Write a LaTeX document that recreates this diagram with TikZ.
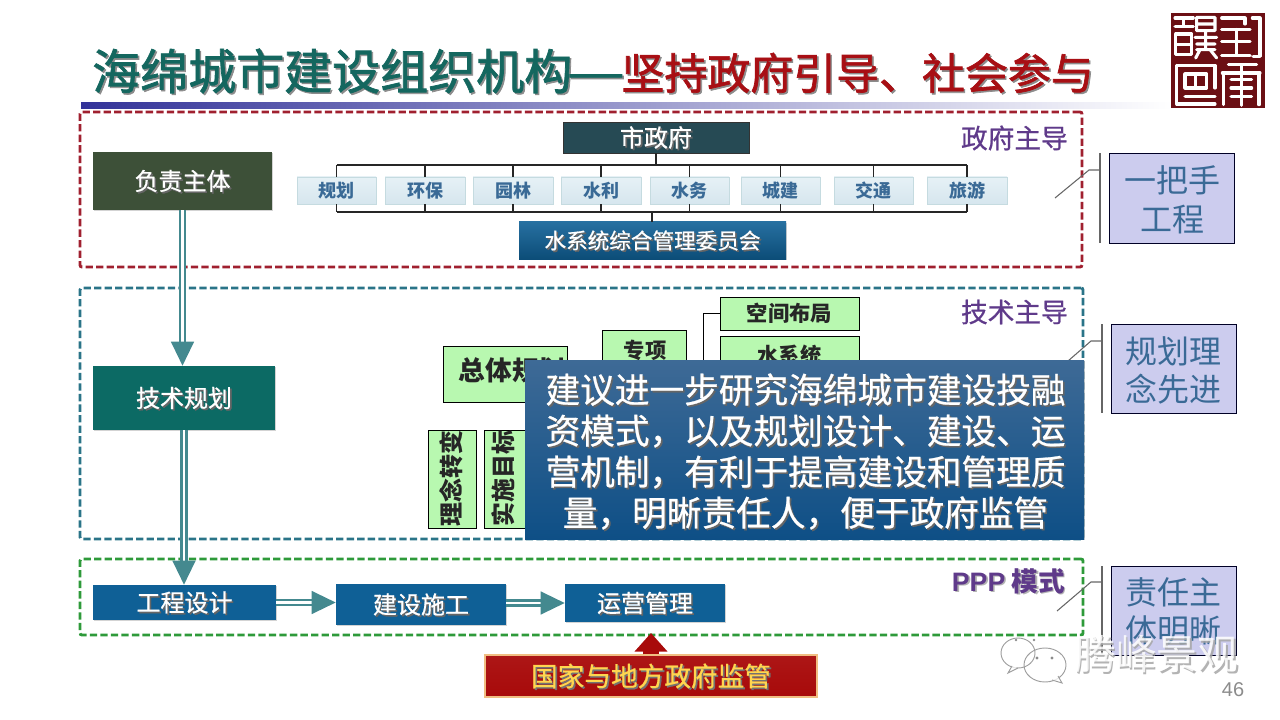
\documentclass[tikz,border=0pt]{standalone}
\usepackage{fontspec}
\setmainfont{Noto Sans CJK SC}
\newfontfamily\latinfont{Liberation Sans}
\newfontfamily\medfont[RawFeature={embolden=0.7}]{Noto Sans CJK SC}
\newfontfamily\headfont[RawFeature={embolden=1.6}]{Noto Sans CJK SC}
\usetikzlibrary{arrows.meta,positioning,shadows,shapes.geometric}
\definecolor{titlegreen}{HTML}{14675F}
\definecolor{titlered}{HTML}{A80F14}
\definecolor{framered}{HTML}{A0202F}
\definecolor{frameteal}{HTML}{2A7488}
\definecolor{framegreen}{HTML}{2E9A3A}
\definecolor{labelpurple}{HTML}{5F3A8A}
\definecolor{deptblue}{HTML}{3A6A96}
\definecolor{depttop}{HTML}{E6F1F6}
\definecolor{deptbot}{HTML}{D6E6EE}
\definecolor{deptline}{HTML}{C5DBE0}
\definecolor{arrowteal}{HTML}{44898F}
\definecolor{sealred}{HTML}{6B0F14}
\definecolor{ownergreen}{HTML}{3D5038}
\definecolor{planteal}{HTML}{0C6A64}
\definecolor{rowblue}{HTML}{0F6096}
\definecolor{cityslate}{HTML}{264A54}
\definecolor{plangreen}{HTML}{B8F8B0}
\definecolor{sidefill}{HTML}{CCCCEE}
\definecolor{warnred}{HTML}{A80A0A}
\newcommand{\shtext}[2]{\leavevmode\rlap{\kern1.2pt\smash{\raisebox{-1.2pt}{\textcolor{#1}{#2}}}}#2}
\begin{document}
\begin{tikzpicture}[
  x=0.75pt, y=-0.75pt,
  wh/.style 2 args={minimum width=#1*0.75pt, minimum height=#2*0.75pt, inner sep=0pt},
  groupframe/.style={draw=#1, line width=2.2pt, dash pattern=on 5.5pt off 2.4pt, rounded corners=1.5pt},
  tag/.style={text=labelpurple, inner sep=0pt, font=\medfont\fontsize{20pt}{24pt}\selectfont},
  softshadow/.style={drop shadow={shadow xshift=1pt, shadow yshift=-1pt, opacity=.35}},
  mainbox/.style={text=white, font=\medfont\fontsize{18pt}{22pt}\selectfont, softshadow},
  dept/.style={draw=deptline, top color=depttop, bottom color=deptbot, text=deptblue, font=\bfseries\fontsize{13.5pt}{16pt}\selectfont},
  planbox/.style={draw=black, line width=.5pt, fill=plangreen, text=black!85, font=\bfseries\fontsize{16pt}{20pt}\selectfont},
  plantxt/.style={text=black!85, inner sep=0pt, font=\bfseries\fontsize{16pt}{20pt}\selectfont},
  uptxt/.style={plantxt, rotate=90, font=\bfseries\fontsize{18pt}{20pt}\selectfont},
  sidebox/.style={draw=black!85!blue, line width=.6pt, fill=sidefill, softshadow},
  sidetxt/.style={text=deptblue, align=center, inner sep=0pt, font=\fontsize{24pt}{29pt}\selectfont},
  bus/.style={draw=black!85, line width=.8pt},
  callout/.style={draw=black!60, line width=.8pt},
  dblarrow/.style={draw=arrowteal, line width=1.7pt, double=white, double distance=2pt, -{Triangle[length=18pt,width=17pt,fill=arrowteal]}},
  sealline/.style={draw=white, line width=2.3pt, line cap=round, line join=round}
]
% page edges
\useasboundingbox (0,0) rectangle (1280,720);

% title and rule
\node[anchor=west, inner sep=0pt] (title) at (92,71) {\headfont{\fontsize{36pt}{40pt}\selectfont\color{titlegreen}\shtext{black!45}{海绵城市建设组织机构\kern-4pt\scalebox{1.35}[1]{—}}}\kern-2.5pt{\fontsize{32.2pt}{40pt}\selectfont\color{titlered}\shtext{black!45}{坚持政府引导、社会参与}}};
\shade[left color=blue!50!black!80, middle color=blue!30!black!55, right color=white] (81,103) rectangle (1172,109);

% seal
\node[fill=sealred, wh={94}{95}] (seal) at (1218,60.5) {};
\begin{scope}[shift={(1165,8)}, x=0.25pt, y=-0.25pt]
  \draw[sealline] (30,30) -- (85,30) (55,30) -- (55,55) (30,55) -- (85,55) (32,78) -- (80,78) -- (80,140) -- (32,140) -- cycle (32,110) -- (80,110);
  \draw[sealline] (95,28) rectangle (150,68) (95,48) -- (150,48) (90,88) -- (155,88) (95,108) -- (150,108) (122,68) -- (122,125) (95,125) -- (150,125) (105,125) -- (92,150) (135,125) -- (155,150);
  \draw[sealline] (170,30) -- (240,30) -- (240,48) (262,30) -- (285,30) -- (285,145) -- (264,145) (170,64) -- (255,64) (170,100) -- (255,100) (170,142) -- (255,142) (215,64) -- (215,142);
  \draw[sealline] (35,172) -- (35,288) -- (150,288) (35,172) -- (150,172) -- (150,240) (60,198) -- (125,198) -- (125,240) -- (60,240) -- cycle (60,265) -- (150,265) (92,198) -- (92,240);
  \draw[sealline] (190,170) -- (275,170) (172,195) -- (285,195) (176,195) -- (176,290) (282,195) -- (282,290) (198,215) -- (260,215) (198,240) -- (260,240) (198,265) -- (260,265) (229,170) -- (229,292);
\end{scope}

% frames
\node[groupframe=framered, wh={1002}{155}] (govframe) at (581,189.5) {};
\node[groupframe=frameteal, wh={1003}{251}] (techframe) at (581.5,413.5) {};
\node[groupframe=framegreen, wh={1003}{76}] (pppframe) at (581.5,597) {};
\node[tag, anchor=east] (govtag) at (1068,138) {政府主导};
\node[tag, anchor=east] (techtag) at (1068,312) {技术主导};
\node[tag, anchor=east, font=\bfseries\fontsize{20pt}{24pt}\selectfont] (ppptag) at (1065,581) {\shtext{black!30}{{\latinfont PPP} 模式}};

% left column
\node[mainbox, fill=ownergreen, wh={179}{58}] (owner) at (182.5,181) {\shtext{black!60}{负责主体}};
\node[mainbox, fill=planteal, wh={182}{64}] (plan) at (184,398) {\shtext{black!60}{技术规划}};
\node[mainbox, fill=rowblue, wh={183}{35}] (design) at (184.5,602.5) {\shtext{black!60}{工程设计}};
\node[mainbox, fill=rowblue, wh={170}{41}] (build) at (421,604.5) {\shtext{black!60}{建设施工}};
\node[mainbox, fill=rowblue, wh={160}{38}] (operate) at (645,603) {\shtext{black!60}{运营管理}};
\draw[dblarrow] (owner.south) -- (owner.south |- plan.north);
\draw[dblarrow] (plan.south) -- (plan.south |- design.north);
\draw[dblarrow] (design.east) -- (build.west |- design.east);
\draw[dblarrow] (build.east |- operate.west) -- (operate.west);

% government row
\node[mainbox, draw=black!80, fill=cityslate, wh={186}{31}] (city) at (656,137.5) {\shtext{black!60}{市政府}};
\coordinate (bustop) at (656,165);
\coordinate (busbot) at (652,212);
\foreach \nm/\cx/\bw/\txt in {d1/336.5/79/规划, d2/425/80/环保, d3/513/80/园林, d4/601/80/水利, d5/689.5/79/水务, d6/780.5/79/城建, d7/873.5/79/交通, d8/967/80/旅游}{
  \node[dept, wh={\bw}{27}] (\nm) at (\cx,190.5) {\txt};
  \draw[bus] (\nm.north) -- (\nm.north |- bustop);
  \draw[bus] (\nm.south) -- (\nm.south |- busbot);
}
\draw[bus] (d1.north |- bustop) -- (d8.north |- bustop);
\draw[bus, line width=1.2pt] (d1.south |- busbot) -- (d8.south |- busbot);
\draw[bus] (city.south) -- (bustop);
\node[mainbox, top color=rowblue!90!white, bottom color=rowblue!80!black, font=\medfont\fontsize{16.2pt}{20pt}\selectfont, wh={267}{37}] (board) at (652.5,240.5) {\shtext{black!60}{水系统综合管理委员会}};
\draw[bus] (busbot) -- (board.north -| busbot);

% planning boxes, partly under the note
\node[planbox, wh={124}{56}] (master) at (505,374) {};
\node[plantxt, font=\bfseries\fontsize{20pt}{24pt}\selectfont] (mastertxt) at (512,370) {总体规划};
\node[planbox, wh={84}{60}] (special) at (644,360) {};
\node[plantxt] (specialtxt) at (645,350) {专项};
\node[planbox, wh={139}{33}] (layout) at (789.5,313.5) {空间布局};
\node[planbox, wh={139}{50}] (water) at (789.5,361) {};
\node[plantxt] (watertxt) at (789.5,355) {水系统};
\coordinate (trunk) at (703,385);
\draw[draw=black, line width=.7pt] (layout.west) -| (trunk);
\node[planbox, wh={48}{98}] (idea) at (452,479) {};
\node[uptxt] (ideatxt) at (451,478.5) {理念转变};
\node[planbox, wh={47}{98}] (goal) at (507.5,479) {};
\node[uptxt] (goaltxt) at (503,478.5) {实施目标};

% side labels
\node[sidebox, wh={125}{90}] (side1) at (1171.5,198) {};
\node[sidebox, wh={125}{89}] (side2) at (1173.5,368.5) {};
\node[sidebox, wh={125}{89}] (side3) at (1173.5,610.5) {};
\node[sidetxt] (side1txt) at (1172,199.5) {一把手\\工程};
\node[sidetxt] (side2txt) at (1173,370.5) {规划理\\念先进};
\node[sidetxt] (side3txt) at (1173,611.5) {责任主\\体明晰};
\coordinate (b1t) at (1100,153); \coordinate (b1b) at (1100,243);
\coordinate (b2t) at (1102,324); \coordinate (b2b) at (1102,413);
\coordinate (b3t) at (1102,566); \coordinate (b3b) at (1102,654);
\draw[callout] (b1t) -- (b1b);
\draw[callout] (b2t) -- (b2b);
\draw[callout] (b3t) -- (b3b);
\coordinate (c1a) at (1100,170); \coordinate (c1b) at (1089,170); \coordinate (c1c) at (1055,198);
\coordinate (c2a) at (1102,341); \coordinate (c2b) at (1091,341); \coordinate (c2c) at (1068,361);
\coordinate (c3a) at (1102,582); \coordinate (c3b) at (1091,582); \coordinate (c3c) at (1057,611);
\draw[callout] (c1a) -- (c1b) -- (c1c);
\draw[callout] (c2a) -- (c2b) -- (c2c);
\draw[callout] (c3a) -- (c3b) -- (c3c);

% note over the technical frame
\node[top color={rgb,255:red,62;green,106;blue,150}, bottom color={rgb,255:red,14;green,79;blue,134}, wh={559}{179}, softshadow] (note) at (804.5,449.5) {};
\node[text=white, align=center, inner sep=0pt, font=\medfont\fontsize{26pt}{30.75pt}\selectfont] (notetxt) at (805.5,451.5)
  {\shtext{black!60}{建议进一步研究海绵城市建设投融}\\\shtext{black!60}{资模式，以及规划设计、建设、运}\\\shtext{black!60}{营机制，有利于提高建设和管理质}\\\shtext{black!60}{量，明晰责任人，便于政府监管}};

% supervision
\node[draw={rgb,255:red,240;green,190;blue,130}, line width=.8pt, top color=warnred!95!white, bottom color=warnred, text={rgb,255:red,255;green,214;blue,80},
  font=\medfont\fontsize{20pt}{24pt}\selectfont, wh={332}{42}, softshadow] (watch) at (651,676) {\shtext{black!55}{国家与地方政府监管}};
\coordinate (watchtip) at (651,633);
\draw[draw=warnred, line width=12pt, -{Triangle[length=14pt,width=24pt,fill=warnred]}] (watch.north) -- (watchtip);

% watermark
\begin{scope}[draw=black!38, line width=.7pt, fill=white, fill opacity=.75]
  \draw (1018,653) ellipse (17 and 15);
  \draw[fill=white] (1012,666) -- (1008,673) -- (1018,668);
  \draw (1045,665) ellipse (21 and 17);
  \draw[fill=white] (1052,680) -- (1062,683) -- (1058,676);
\end{scope}
\foreach \ex in {1037,1052}{\fill[black!45] (\ex,658) circle (1.6);}
\foreach \ex in {1016,1034}{\fill[black!45] (\ex,640) circle (1.4);}
\node[text=white, text opacity=.85, font=\fontsize{30.6pt}{34pt}\selectfont, inner sep=0pt, anchor=west] (mark) at (1075,654) {\shtext{black!35}{腾峰景观}};
\node[text=black!45, font=\latinfont\fontsize{15pt}{18pt}\selectfont, inner sep=0pt] (page) at (1233,690) {46};
\end{tikzpicture}
\end{document}
